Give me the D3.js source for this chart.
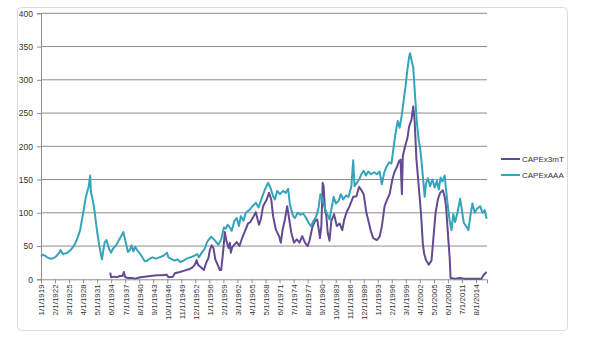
<!DOCTYPE html>
<html>
<head>
<meta charset="utf-8">
<script src="https://cdn.jsdelivr.net/npm/d3@7"></script>
<style>
  body { margin: 0; background: #fff; }
  svg text { font-family: "Liberation Sans", Arial, sans-serif; fill: #333; }
</style>
</head>
<body>
<div id="chart"></div>
<script>
// values: [year (decimal), value]
var capex3mT = [
  [1934.2,10],[1934.4,3],[1935.0,4],[1935.6,3],[1936.3,5],[1936.9,5],[1937.2,11],[1937.5,3],
  [1938.2,2],[1939.0,2],[1939.7,1],[1940.8,3],[1941.8,4],[1943.0,5],[1944.5,6],[1945.5,6],
  [1946.6,7],[1947.0,3],[1948.0,4],[1948.4,9],[1949.5,11],[1950.5,13],[1951.5,15],[1952.3,18],
  [1952.8,22],[1953.2,29],[1953.5,22],[1954.0,19],[1954.8,14],[1955.3,25],[1955.8,32],[1956.1,44],
  [1956.5,51],[1956.9,47],[1957.3,30],[1957.8,22],[1958.3,14],[1958.6,14],[1959.0,40],[1959.4,71],
  [1959.8,56],[1960.2,47],[1960.5,55],[1960.7,40],[1961.0,48],[1961.5,52],[1962.0,56],[1962.6,50],
  [1963.3,64],[1963.8,72],[1964.5,84],[1965.0,86],[1965.5,92],[1966.2,101],[1966.9,82],[1967.3,90],
  [1967.8,110],[1968.6,120],[1969.1,130],[1969.6,120],[1970.0,95],[1970.6,75],[1971.3,65],[1971.7,55],
  [1972.1,75],[1972.6,90],[1973.1,110],[1973.5,92],[1974.0,70],[1974.6,55],[1975.2,60],[1975.8,55],
  [1976.4,65],[1977.0,55],[1977.6,50],[1978.0,58],[1978.6,78],[1979.2,88],[1979.7,90],[1980.3,62],
  [1980.6,80],[1980.9,145],[1981.1,140],[1981.4,105],[1981.7,95],[1982.0,70],[1982.4,58],[1982.8,88],
  [1983.4,98],[1984.0,80],[1984.6,84],[1985.2,74],[1985.6,89],[1986.1,100],[1986.8,110],[1987.6,124],
  [1988.3,125],[1988.9,139],[1989.4,134],[1989.9,128],[1990.5,100],[1990.9,89],[1991.5,72],[1992.0,62],
  [1992.8,59],[1993.4,64],[1993.9,80],[1994.5,110],[1995.0,119],[1995.6,128],[1996.2,150],[1996.6,160],
  [1997.2,169],[1997.7,178],[1998.0,180],[1998.3,128],[1998.5,185],[1999.0,200],[1999.5,212],[1999.9,230],
  [2000.4,240],[2000.8,260],[2001.1,238],[2001.5,180],[2002.0,140],[2002.5,99],[2002.9,54],[2003.2,38],
  [2003.6,29],[2004.2,22],[2004.8,28],[2005.2,60],[2005.7,100],[2006.2,120],[2006.7,130],[2007.3,134],
  [2007.7,124],[2008.0,110],[2008.2,90],[2008.5,60],[2008.8,32],[2009.0,2],[2010.0,1],[2011.0,2],
  [2012.0,1],[2013.0,1],[2014.0,1],[2015.0,1],[2015.8,1],[2016.2,6],[2016.9,11]
];

var capexAAA = [
  [1919.0,35],[1919.5,37],[1920.0,35],[1920.6,32],[1921.2,31],[1921.8,32],[1922.4,35],[1923.0,40],
  [1923.3,44],[1923.8,38],[1924.4,39],[1925.0,41],[1925.5,44],[1926.1,49],[1926.6,55],[1927.0,62],
  [1927.6,74],[1928.0,90],[1928.4,105],[1928.8,122],[1929.1,130],[1929.5,140],[1929.8,156],[1930.0,130],
  [1930.3,121],[1930.5,114],[1930.8,101],[1931.1,84],[1931.5,64],[1931.8,51],[1932.2,36],[1932.4,30],
  [1932.7,44],[1933.0,56],[1933.4,59],[1933.7,52],[1934.0,45],[1934.4,40],[1934.8,46],[1935.5,51],
  [1936.2,60],[1936.7,66],[1937.1,71],[1937.4,62],[1937.8,50],[1938.1,41],[1938.5,44],[1938.9,51],
  [1939.3,42],[1939.7,49],[1940.1,44],[1940.6,40],[1941.1,35],[1941.8,27],[1942.3,28],[1942.9,31],
  [1943.5,33],[1944.3,31],[1945.0,33],[1945.8,35],[1946.4,38],[1946.7,40],[1947.0,33],[1947.8,30],
  [1948.4,28],[1949.0,30],[1949.6,26],[1950.3,28],[1951.0,31],[1951.8,33],[1952.6,35],[1953.3,38],
  [1953.7,33],[1954.3,40],[1954.9,45],[1955.5,56],[1955.9,60],[1956.4,64],[1957.0,60],[1957.6,55],
  [1958.0,52],[1958.6,60],[1959.2,78],[1959.6,76],[1960.0,82],[1960.5,78],[1960.9,73],[1961.5,88],
  [1962.0,92],[1962.5,80],[1962.9,95],[1963.5,88],[1964.0,100],[1964.9,105],[1965.5,110],[1966.2,115],
  [1966.8,108],[1967.5,122],[1968.2,135],[1968.9,145],[1969.4,138],[1970.0,125],[1970.4,120],[1970.9,133],
  [1971.5,128],[1972.2,133],[1972.8,130],[1973.3,136],[1973.7,112],[1974.4,95],[1974.8,92],[1975.4,100],
  [1976.0,97],[1976.6,99],[1977.2,93],[1977.8,85],[1978.3,80],[1978.9,88],[1979.5,95],[1980.0,108],
  [1980.4,128],[1980.8,122],[1981.2,110],[1981.8,100],[1982.4,90],[1982.8,105],[1983.3,124],[1983.8,114],
  [1984.4,118],[1984.9,128],[1985.4,120],[1986.0,126],[1986.6,124],[1987.2,140],[1987.6,179],[1987.9,140],
  [1988.4,145],[1988.9,150],[1989.4,158],[1989.9,163],[1990.4,156],[1990.9,162],[1991.5,158],[1992.2,161],
  [1992.8,158],[1993.4,162],[1993.9,143],[1994.4,160],[1994.9,169],[1995.5,176],[1996.0,174],[1996.5,200],
  [1997.0,224],[1997.4,238],[1997.8,228],[1998.3,248],[1998.7,270],[1999.1,290],[1999.5,315],[1999.9,335],
  [2000.1,340],[2000.4,330],[2000.8,318],[2001.2,275],[2001.6,235],[2002.0,209],[2002.3,198],[2002.6,178],
  [2003.0,148],[2003.3,124],[2003.6,144],[2004.0,152],[2004.5,140],[2005.0,150],[2005.5,138],[2006.0,148],
  [2006.4,135],[2006.8,153],[2007.2,147],[2007.7,156],[2008.0,135],[2008.4,110],[2008.8,88],[2009.2,74],
  [2009.6,98],[2010.0,86],[2010.5,100],[2011.1,121],[2011.4,108],[2011.9,85],[2012.4,80],[2012.9,74],
  [2013.4,98],[2013.8,114],[2014.3,100],[2014.8,106],[2015.5,110],[2016.0,100],[2016.5,104],[2016.9,91]
];

var yTicks = [0, 50, 100, 150, 200, 250, 300, 350, 400];

var xTickLabels = ["1/1/1919","2/1/1922","3/1/1925","4/1/1928","5/1/1931","6/1/1934","7/1/1937",
  "8/1/1940","9/1/1943","10/1/1946","11/1/1949","12/1/1952","1/1/1956","2/1/1959","3/1/1962",
  "4/1/1965","5/1/1968","6/1/1971","7/1/1974","8/1/1977","9/1/1980","10/1/1983","11/1/1986",
  "12/1/1989","1/1/1993","2/1/1996","3/1/1999","4/1/2002","5/1/2005","6/1/2008","7/1/2011","8/1/2014"];

var seriesNames = ["CAPEx3mT", "CAPExAAA"];
var seriesColors = ["#634a93", "#35a3bb"];

var width = 605, height = 345;
var plotLeft = 41, plotRight = 487, plotTop = 13.3, plotBottom = 279.3;

var svg = d3.select('#chart').append('svg')
    .attr('width', width)
    .attr('height', height);

// chart frame
svg.append('rect')
    .attr('x', 17.5).attr('y', 7.5)
    .attr('width', 550).attr('height', 323)
    .attr('rx', 4)
    .attr('fill', '#fff')
    .attr('stroke', '#dcdcdc');

var x = d3.scaleLinear().domain([1919, 2017]).range([plotLeft, plotRight]);
var y = d3.scaleLinear().domain([0, 400]).range([plotBottom, plotTop]);

function labelYear(s) {
    var p = s.split('/');
    return +p[2] + (+p[0] - 1) / 12;
}

// gridlines
svg.append('g')
    .selectAll('line')
    .data(yTicks.filter(function(d) { return d > 0; }))
    .enter().append('line')
    .attr('x1', plotLeft).attr('x2', plotRight)
    .attr('y1', function(d) { return y(d); })
    .attr('y2', function(d) { return y(d); })
    .attr('stroke', '#8c8c8c')
    .attr('stroke-width', 1);

var yAxis = d3.axisLeft(y).tickValues(yTicks).tickSize(4).tickPadding(4);
var yg = svg.append('g').attr('transform', 'translate(' + plotLeft + ',0)').call(yAxis);
yg.selectAll('text').style('font-size', '8.5px');

var xAxis = d3.axisBottom(x)
    .tickValues(xTickLabels.map(labelYear))
    .tickFormat(function(d, i) { return xTickLabels[i]; })
    .tickSize(4)
    .tickPadding(0);
var xg = svg.append('g').attr('transform', 'translate(0,' + plotBottom + ')').call(xAxis);
xg.selectAll('text')
    .style('font-size', '8px')
    .attr('text-anchor', 'end')
    .attr('transform', 'rotate(-90)')
    .attr('x', -5).attr('y', 0).attr('dy', '0.35em');

svg.selectAll('.domain, .tick line').attr('stroke', '#8c8c8c');

var line = d3.line()
    .x(function(d) { return x(d[0]); })
    .y(function(d) { return y(d[1]); });

[capex3mT, capexAAA].forEach(function(s, i) {
    svg.append('path')
        .attr('d', line(s))
        .attr('fill', 'none')
        .attr('stroke', seriesColors[i])
        .attr('stroke-width', 2)
        .attr('stroke-linejoin', 'round');
});

// legend
var legend = svg.append('g').attr('transform', 'translate(501,159)');
seriesNames.forEach(function(n, i) {
    var g = legend.append('g').attr('transform', 'translate(0,' + (i * 16) + ')');
    g.append('line').attr('x1', 0).attr('x2', 19)
        .attr('stroke', seriesColors[i]).attr('stroke-width', 2);
    g.append('text').attr('x', 21).attr('dy', '0.35em')
        .style('font-size', '8px').text(n);
});
</script>
</body>
</html>
